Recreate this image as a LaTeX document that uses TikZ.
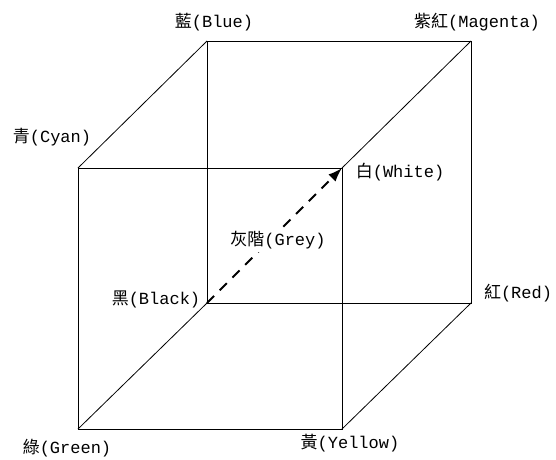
\documentclass[tikz,border=0pt]{standalone}
\usepackage{fontspec}
\setmainfont{Liberation Mono}
\newfontfamily\cjk{Noto Sans CJK TC}
\usetikzlibrary{arrows.meta}
\begin{document}
\begin{tikzpicture}[x=1pt,y=-1pt,
  edge/.style={line width=0.8pt, black},
  greyarrow/.style={line width=2pt, dash pattern=on 10pt off 8pt, -{Latex[length=14pt,width=10pt]}},
  lbl/.style={font=\fontsize{17}{20}\selectfont, inner sep=0pt, text=black}]
\useasboundingbox (0,0) rectangle (556,459);
% front face
\coordinate (C) at (78,168);
\coordinate (W) at (342,168);
\coordinate (G) at (78,429);
\coordinate (Y) at (342,429);
% back face
\coordinate (B) at (207,41);
\coordinate (M) at (471,41);
\coordinate (K) at (207,303);
\coordinate (R) at (471,303);
% edges
\draw[edge] (C) -- (W) -- (Y) -- (G) -- cycle;
\draw[edge] (B) -- (M) -- (R) -- (K) -- cycle;
\draw[edge] (C) -- (B);
\draw[edge] (W) -- (M);
\draw[edge] (G) -- (K);
\draw[edge] (Y) -- (R);
% grey axis
\draw[greyarrow] (K) -- (W);
% labels
\node[lbl] (lB) at (214,22) {{\cjk 藍}(Blue)};
\node[lbl] (lM) at (477,22) {{\cjk 紫紅}(Magenta)};
\node[lbl] (lC) at (52,137) {{\cjk 青}(Cyan)};
\node[lbl] (lW) at (400,172) {{\cjk 白}(White)};
\node[lbl, fill=white, inner sep=3pt] (lGr) at (278,240) {{\cjk 灰階}(Grey)};
\node[lbl] (lK) at (156,299) {{\cjk 黑}(Black)};
\node[lbl] (lR) at (518,293) {{\cjk 紅}(Red)};
\node[lbl] (lG) at (67,448) {{\cjk 綠}(Green)};
\node[lbl] (lY) at (350,443) {{\cjk 黃}(Yellow)};
\end{tikzpicture}
\end{document}
